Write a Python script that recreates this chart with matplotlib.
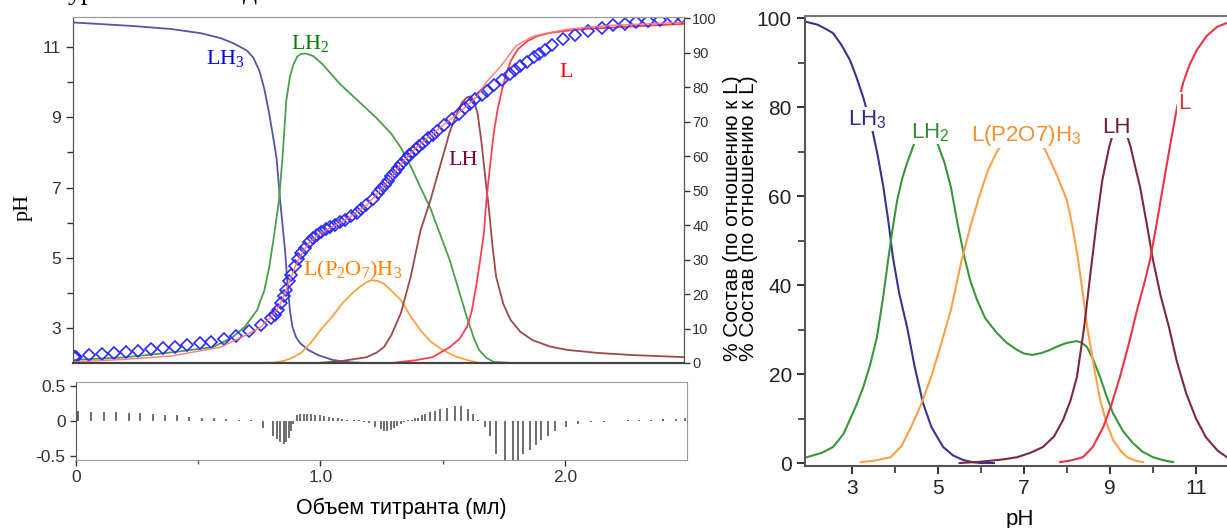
import matplotlib.pyplot as plt
from matplotlib.ticker import MultipleLocator, FixedLocator

plt.rcParams['font.family'] = ['Liberation Sans', 'DejaVu Sans']
plt.rcParams['mathtext.fontset'] = 'custom'
plt.rcParams['mathtext.rm'] = 'Liberation Serif'
plt.rcParams['mathtext.it'] = 'Liberation Serif:italic'
plt.rcParams['mathtext.sf'] = 'Liberation Sans'

# titration points: volume (ml), measured pH, residual
vol = [0, 0.004, 0.008, 0.06, 0.115, 0.164, 0.215, 0.262, 0.314, 0.365,
       0.413, 0.464, 0.515, 0.563, 0.615, 0.665, 0.716, 0.765, 0.806, 0.822,
       0.836, 0.850, 0.861, 0.870, 0.880, 0.888, 0.904, 0.918, 0.932, 0.945,
       0.962, 0.979, 0.997, 1.013, 1.034, 1.05, 1.07, 1.09, 1.11, 1.137,
       1.158, 1.178, 1.198, 1.225, 1.246, 1.26, 1.273, 1.287, 1.30, 1.314,
       1.328, 1.342, 1.36, 1.374, 1.388, 1.40, 1.415, 1.43, 1.45, 1.47,
       1.489, 1.516, 1.55, 1.576, 1.604, 1.625, 1.645, 1.672, 1.692, 1.72,
       1.754, 1.788, 1.808, 1.829, 1.856, 1.884, 1.904, 1.931, 1.958, 2.006,
       2.054, 2.107, 2.162, 2.21, 2.257, 2.305, 2.353, 2.40, 2.455, 2.49]
ph_obs = [2.17, 2.17, 2.18, 2.23, 2.26, 2.29, 2.31, 2.34, 2.40, 2.43,
          2.46, 2.51, 2.57, 2.61, 2.69, 2.78, 2.92, 3.08, 3.27, 3.38,
          3.52, 3.71, 3.90, 4.09, 4.35, 4.52, 4.75, 4.95, 5.13, 5.28,
          5.45, 5.57, 5.66, 5.73, 5.81, 5.87, 5.94, 6.01, 6.08, 6.18,
          6.28, 6.38, 6.50, 6.68, 6.85, 6.97, 7.08, 7.20, 7.32, 7.44,
          7.56, 7.68, 7.82, 7.93, 8.02, 8.10, 8.19, 8.28, 8.40, 8.51,
          8.62, 8.77, 8.96, 9.11, 9.27, 9.39, 9.51, 9.65, 9.76, 9.91,
          10.07, 10.24, 10.34, 10.45, 10.58, 10.71, 10.80, 10.93, 11.05, 11.23,
          11.36, 11.46, 11.56, 11.62, 11.67, 11.72, 11.75, 11.78, 11.82, 11.86]
resid = [0.15, 0.15, 0.14, 0.13, 0.13, 0.13, 0.12, 0.11, 0.10, 0.09,
         0.08, 0.06, 0.05, 0.04, 0.03, 0.02, 0.01, -0.10, -0.22, -0.26,
         -0.30, -0.33, -0.30, -0.25, -0.15, -0.05, 0.08, 0.10, 0.10, 0.10,
         0.10, 0.09, 0.08, 0.07, 0.06, 0.05, 0.04, 0.03, 0.02, 0.01,
         0.01, -0.01, -0.03, -0.08, -0.12, -0.15, -0.15, -0.13, -0.10, -0.07,
         -0.04, -0.02, 0.01, 0.02, 0.04, 0.05, 0.08, 0.10, 0.13, 0.15,
         0.18, 0.19, 0.22, 0.22, 0.18, 0.10, 0.02, -0.08, -0.22, -0.48,
         -0.57, -0.60, -0.58, -0.48, -0.42, -0.35, -0.28, -0.22, -0.15, -0.08,
         -0.05, -0.02, -0.01, 0.00, 0.01, 0.02, 0.02, 0.03, 0.03, 0.04]

# calculated pH curve
fit_vol = [0, 0.2, 0.4, 0.6, 0.7, 0.76, 0.8, 0.83, 0.85, 0.87, 0.89, 0.91,
           0.94, 0.97, 1.0, 1.05, 1.1, 1.15, 1.2, 1.25, 1.3, 1.35, 1.4, 1.45,
           1.5, 1.55, 1.6, 1.65, 1.69, 1.75, 1.81, 1.88, 2.02, 2.2, 2.5]
fit_ph = [2.03, 2.1, 2.2, 2.45, 2.78, 3.0, 3.25, 3.5, 3.75, 4.1, 4.45, 4.8,
          5.2, 5.47, 5.65, 5.85, 6.03, 6.25, 6.5, 6.88, 7.3, 7.75, 8.12, 8.42,
          8.7, 8.98, 9.27, 9.58, 10.0, 10.46, 11.03, 11.31, 11.51, 11.62, 11.71]

# species distribution vs titrant volume (% relative to L)
lh3_v = [0, 0.24, 0.4, 0.52, 0.6, 0.65, 0.69, 0.71, 0.735, 0.76, 0.78, 0.80, 0.815,
         0.83, 0.845, 0.865, 0.875, 0.885, 0.895, 0.91, 0.926, 0.96, 1.0, 1.06, 1.13, 1.2, 2.5]
lh3_p = [98.7, 97.7, 96.8, 95.6, 94.2, 92.8, 91.3, 90.5, 88.5, 84.7, 79.5, 72.3, 66,
         59.5, 47, 32.6, 23, 15.3, 10.5, 7.5, 5.8, 3.8, 2.3, 0.9, 0.2, 0, 0]
lh2_v = [0, 0.2, 0.38, 0.57, 0.65, 0.7, 0.75, 0.78, 0.80, 0.82, 0.84, 0.855, 0.87,
         0.885, 0.90, 0.915, 0.93, 0.95, 0.98, 1.02, 1.09, 1.24, 1.30, 1.34, 1.38,
         1.42, 1.46, 1.54, 1.61, 1.64, 1.66, 1.69, 1.72, 1.8, 2.5]
lh2_p = [0.9, 1.6, 2.9, 4.6, 7.5, 10.5, 15.3, 21, 27.7, 37, 47, 60, 76,
         83, 86.7, 88.8, 89.6, 89.7, 89, 86.5, 80.9, 71, 66.5, 62.4, 57,
         50.9, 45, 29.8, 13.3, 7, 3.8, 1.5, 0.3, 0, 0]
lp_v = [0.75, 0.82, 0.86, 0.90, 0.93, 0.97, 1.01, 1.06, 1.10, 1.14, 1.17, 1.20, 1.22,
        1.245, 1.27, 1.30, 1.34, 1.38, 1.42, 1.46, 1.51, 1.56, 1.61, 1.66]
lp_p = [0, 0.1, 0.6, 1.7, 2.9, 5.8, 9.5, 13.6, 17.3, 20.2, 22, 23.5, 24,
        23.8, 23, 21, 18.2, 13.5, 9.5, 6.3, 3.8, 2, 0.9, 0]
lh_v = [1.0, 1.1, 1.2, 1.24, 1.27, 1.30, 1.34, 1.38, 1.42, 1.46, 1.50, 1.54, 1.57,
        1.59, 1.61, 1.625, 1.64, 1.655, 1.67, 1.69, 1.70, 1.715, 1.73, 1.76, 1.79,
        1.83, 1.88, 1.95, 2.02, 2.15, 2.29, 2.5]
lh_p = [0, 0.6, 1.7, 3, 4.6, 8, 14.5, 25, 38.4, 47, 57, 67, 72.5,
        75.5, 77, 77.3, 76, 72, 64, 51, 45, 34, 25, 17, 12.4,
        9, 6.6, 4.8, 3.8, 2.9, 2.3, 1.7]
l_v = [1.3, 1.4, 1.47, 1.54, 1.58, 1.61, 1.63, 1.65, 1.665, 1.68, 1.69, 1.705, 1.72,
       1.735, 1.75, 1.77, 1.79, 1.82, 1.86, 1.9, 1.95, 2.02, 2.09, 2.3, 2.5]
l_p = [0, 0.8, 1.7, 4.6, 7, 10.4, 15, 23, 30, 37.6, 47, 57, 66.5,
       73, 78, 83.5, 87.6, 91, 93.4, 94.8, 95.7, 96.3, 96.8, 97.6, 98.3]

# species distribution vs pH
r_lh3_x = [1.95, 2.2, 2.4, 2.56, 2.75, 2.95, 3.1, 3.26, 3.47, 3.6, 3.73, 3.85, 3.95,
           4.1, 4.28, 4.45, 4.65, 4.85, 5.12, 5.35, 5.58, 5.8, 6.0, 6.3]
r_lh3_y = [99.1, 98.5, 97.5, 96.6, 94, 90.6, 86.8, 82.2, 75, 69, 62, 54, 46.3,
           38, 30.6, 22, 13.5, 8, 3.6, 1.7, 0.7, 0.2, 0, 0]
r_lh2_x = [1.95, 2.3, 2.56, 2.8, 2.95, 3.1, 3.26, 3.42, 3.58, 3.72, 3.84, 3.95, 4.05,
           4.17, 4.28, 4.45, 4.6, 4.72, 4.85, 4.98, 5.15, 5.3, 5.45, 5.62, 5.75, 5.91,
           6.1, 6.37, 6.6, 6.84, 7.0, 7.19, 7.4, 7.6, 7.8, 8.0, 8.23, 8.35, 8.47,
           8.62, 8.77, 8.92, 9.07, 9.3, 9.53, 9.75, 10.0, 10.25, 10.47]
r_lh2_y = [1.3, 2.3, 3.6, 6.5, 9.7, 13, 17, 22, 28.3, 37, 45.6, 53, 59,
           64, 67.4, 71.9, 75, 76, 75, 72, 67.5, 62, 54, 46, 41, 36.6,
           32.5, 29.2, 27, 25.4, 24.6, 24.3, 24.7, 25.4, 26.3, 27, 27.4, 27, 26,
           23, 19.3, 15, 11.2, 7.2, 4.5, 2.6, 1.3, 0.6, 0.2]
r_lp_x = [3.2, 3.5, 3.9, 4.15, 4.37, 4.6, 4.84, 5.05, 5.3, 5.55, 5.75, 5.93, 6.15,
          6.37, 6.6, 6.93, 7.2, 7.49, 7.75, 8.0, 8.13, 8.26, 8.37, 8.47, 8.62, 8.77,
          8.92, 9.07, 9.25, 9.4, 9.6, 9.77]
r_lp_y = [0.2, 0.5, 1.3, 3.8, 8, 13, 19.3, 26, 34.4, 45.6, 53, 59, 65.5,
          70, 73, 74.5, 73, 70.5, 65, 59, 53, 45.6, 38, 30.6, 22, 14.2,
          9, 5.2, 2.7, 1.3, 0.5, 0.2]
r_lh_x = [5.5, 6.0, 6.5, 6.84, 7.15, 7.44, 7.7, 7.91, 8.08, 8.23, 8.4, 8.55, 8.7,
          8.82, 8.98, 9.1, 9.22, 9.35, 9.48, 9.6, 9.7, 9.85, 10.0, 10.18, 10.37,
          10.55, 10.77, 11.0, 11.23, 11.5, 11.72]
r_lh_y = [0, 0.3, 0.8, 1.3, 2.3, 3.6, 6, 9.7, 14, 19.3, 30.6, 43, 55,
          63.5, 71, 75, 76.5, 75, 71, 66, 62, 54, 45.6, 37.5, 30.6,
          23, 15.7, 10, 5.8, 2.8, 1.3]
r_l_x = [7.84, 8.1, 8.37, 8.6, 8.84, 9.03, 9.23, 9.43, 9.63, 9.8, 9.93, 10.08, 10.23,
         10.4, 10.56, 10.7, 10.85, 11.02, 11.25, 11.49, 11.72]
r_l_y = [0.2, 0.6, 1.3, 3.6, 8, 13, 19.3, 26.5, 34.4, 40.5, 45.6, 53.5, 62,
         71.5, 80, 85.4, 89.5, 92.8, 96, 98, 98.9]

W, H = 1227, 528


def box(l, t, r, b):
    return [l / W, 1 - b / H, (r - l) / W, (b - t) / H]


fig = plt.figure(figsize=(W / 100, H / 100), dpi=100)

# main panel: species (%) on ax, pH on twin axis drawn on top
ax = fig.add_axes(box(73, 17, 684, 363))
axp = ax.twinx()
ax.plot(lh3_v, lh3_p, color='#5555a5', lw=1.3)
ax.plot(lh2_v, lh2_p, color='#4aa04a', lw=1.3)
ax.plot(lp_v, lp_p, color='#ffa040', lw=1.3)
ax.plot(lh_v, lh_p, color='#9a4a4a', lw=1.3)
ax.plot(l_v, l_p, color='#ff4050', lw=1.3)
axp.plot(vol, ph_obs, 'D', ms=6.5, mfc='none', mec='#2a2aff', mew=1.2)
axp.plot(fit_vol, fit_ph, color='#ff7070', lw=1.1, alpha=0.85)

ax.set_xlim(-0.004, 2.5)
ax.set_ylim(0, 100.3)
axp.set_ylim(2.0, 11.86)
ax.set_xticks([])
ax.yaxis.tick_right()
axp.yaxis.tick_left()
ax.yaxis.set_major_locator(MultipleLocator(10))
axp.yaxis.set_major_locator(FixedLocator([3, 5, 7, 9, 11]))
axp.yaxis.set_minor_locator(FixedLocator([4, 6, 8, 10]))
ax.tick_params(axis='y', direction='out', length=4, width=1, labelsize=10.5,
               colors='#333333', pad=2)
axp.tick_params(axis='y', which='major', direction='out', length=5, width=1,
                labelsize=12.5, colors='#333333')
axp.tick_params(axis='y', which='minor', direction='out', length=4, width=1, colors='#333333')
for a in (ax, axp):
    a.spines['top'].set_color('#999999')
    a.spines['left'].set_color('#555555')
    a.spines['right'].set_color('#555555')
    a.spines['bottom'].set_color('#444444')
    a.spines['bottom'].set_linewidth(1.5)

serif = ['Liberation Serif', 'DejaVu Serif']
ax.text(0.62, 88.2, r'LH$_3$', color='#0000ff', fontsize=16, family=serif, ha='center', va='center')
ax.text(0.967, 92.5, r'LH$_2$', color='#008000', fontsize=16, family=serif, ha='center', va='center')
ax.text(1.14, 26.9, r'L(P$_2$O$_7$)H$_3$', color='#ff8000', fontsize=16, family=serif,
        ha='center', va='center')
ax.text(1.594, 58.7, 'LH', color='#800040', fontsize=16, family=serif, ha='center', va='center')
ax.text(2.016, 84.1, 'L', color='#ff0000', fontsize=16, family=serif, ha='center', va='center')

fig.text(23 / W, 1 - 207 / H, 'pH', rotation=90, fontsize=16, family=serif,
         ha='center', va='center')
# the axis title is printed twice, one copy over the other
for xl in (733, 748):
    fig.text(xl / W, 1 - 218 / H, '% Состав (по отношению к L)', rotation=90,
             fontsize=15, ha='center', va='center')

# residual panel
axr = fig.add_axes(box(76, 382, 687, 460))
axr.vlines(vol, 0, resid, color='#555555', lw=1.2)
axr.set_xlim(0, 2.5)
axr.set_ylim(-0.565, 0.565)
axr.set_yticks([0.5, 0, -0.5])
axr.set_yticklabels(['0.5', '0', '-0.5'])
axr.set_xticks([0, 1, 2])
axr.set_xticklabels(['0', '1.0', '2.0'])
axr.xaxis.set_minor_locator(FixedLocator([0.5, 1.5]))
axr.tick_params(direction='out', length=4, width=1, labelsize=12.5, colors='#333333')
axr.tick_params(which='minor', direction='out', length=3, width=1, colors='#555555')
for s in axr.spines.values():
    s.set_color('#999999')
axr.spines['left'].set_color('#555555')
fig.text(401 / W, 1 - 508 / H, 'Объем титранта (мл)', fontsize=15.5, ha='center', va='center')

# right panel: distribution vs pH
ax3 = fig.add_axes(box(805, 16, 1235, 466))
ax3.plot(r_lh3_x, r_lh3_y, color='#35358f', lw=1.5)
ax3.plot(r_lh2_x, r_lh2_y, color='#3a963a', lw=1.5)
ax3.plot(r_lp_x, r_lp_y, color='#ffa045', lw=1.5)
ax3.plot(r_lh_x, r_lh_y, color='#7a2a3a', lw=1.5)
ax3.plot(r_l_x, r_l_y, color='#ee3344', lw=1.5)
ax3.set_xlim(1.907, 11.907)
ax3.set_ylim(-0.67, 100.45)
ax3.set_xticks([3, 5, 7, 9, 11])
ax3.xaxis.set_minor_locator(FixedLocator([4, 6, 8, 10]))
ax3.set_yticks([0, 20, 40, 60, 80, 100])
ax3.yaxis.set_minor_locator(FixedLocator([10, 30, 50, 70, 90]))
ax3.tick_params(direction='out', length=6, width=1.3, labelsize=15, colors='#222222')
ax3.tick_params(which='minor', direction='out', length=5, width=1.3, colors='#444444')
ax3.spines['right'].set_visible(False)
ax3.spines['top'].set_color('#777777')
ax3.spines['left'].set_color('#555555')
ax3.spines['bottom'].set_color('#555555')
for s in ('left', 'bottom', 'top'):
    ax3.spines[s].set_linewidth(1.5)

wb = dict(facecolor='white', edgecolor='none', pad=0.5)
ax3.text(3.35, 77.3, r'LH$_\mathsf{3}$', color='#2b2b8b', fontsize=16, ha='center', va='center', bbox=wb)
ax3.text(4.81, 74.4, r'LH$_\mathsf{2}$', color='#2e8b2e', fontsize=16, ha='center', va='center', bbox=wb)
ax3.text(7.05, 73.7, r'L(P2O7)H$_\mathsf{3}$', color='#f09030', fontsize=16, ha='center',
         va='center', bbox=wb)
ax3.text(9.14, 75.5, 'LH', color='#6b1f2f', fontsize=16, ha='center', va='center', bbox=wb)
ax3.text(10.72, 80.9, 'L', color='#e8303a', fontsize=16, ha='center', va='center', bbox=wb)
fig.text(1020 / W, 1 - 509 / H, 'pH', fontsize=16, ha='center', va='top')

# text cut off at the top of the picture
fig.text(68 / W, 1 + 1 / H, 'ур', fontsize=20, family=serif, va='baseline')
fig.text(243 / W, 1 + 1 / H, 'д', fontsize=20, family=serif, va='baseline')

fig.savefig('out.png', dpi=100)
